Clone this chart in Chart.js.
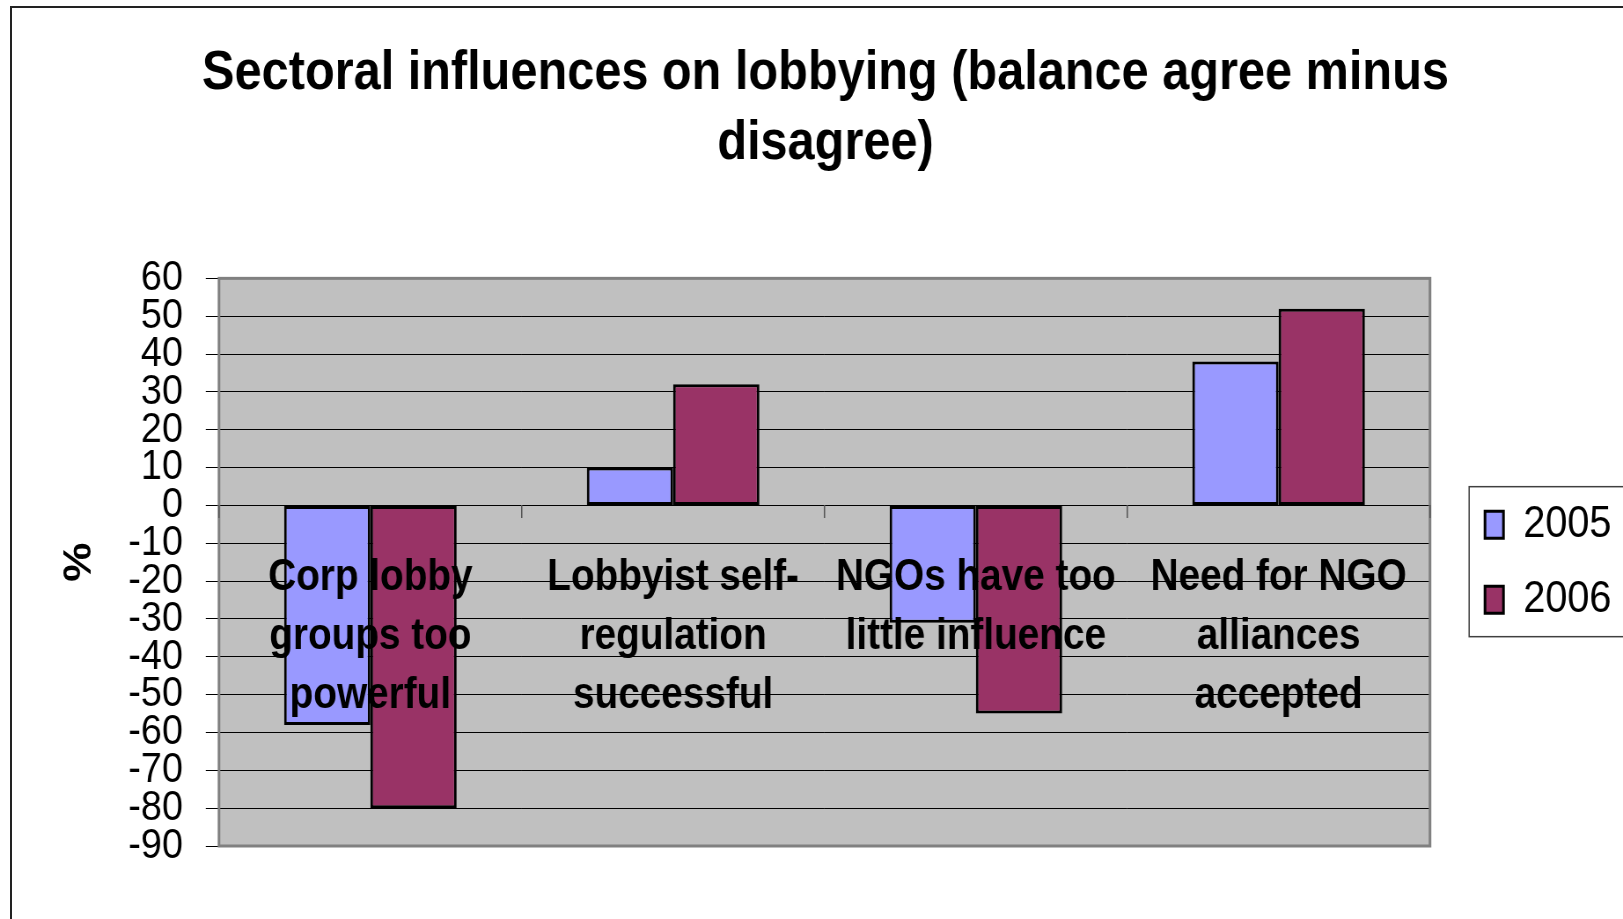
<!DOCTYPE html>
<html>
<head>
<meta charset="utf-8">
<script src="https://cdn.jsdelivr.net/npm/chart.js@4/dist/chart.umd.min.js"></script>
<style>
  html, body { margin: 0; padding: 0; background: #fff; overflow: hidden; }
  #wrap { position: absolute; left: 0; top: 0; transform: scaleX(0.88015); transform-origin: 0 0; }
  #frame { position: absolute; left: 10px; top: 6px; width: 2000px; height: 2000px;
           border-left: 2px solid #222; border-top: 2px solid #222; pointer-events: none; }
</style>
</head>
<body>
<div id="frame"></div>
<div id="wrap"><canvas id="chart" width="1844" height="919"></canvas></div>
<script>
// chart data
const categories = [
  ['Corp lobby', 'groups too', 'powerful'],
  ['Lobbyist self-', 'regulation', 'successful'],
  ['NGOs have too', 'little influence'],
  ['Need for NGO', 'alliances', 'accepted']
];
const seriesNames = ['2005', '2006'];
const values2005 = [-58, 10, -31, 38];
const values2006 = [-80, 32, -55, 52];
const yMin = -90;
const yMax = 60;
const yStep = 10;

const FONT = "'Liberation Sans', Arial, sans-serif";

// grey plot area + frame around it, plus the legend box
const plotBackground = {
  id: 'plotBackground',
  beforeDraw(chart) {
    const {ctx, chartArea: a} = chart;
    ctx.save();
    ctx.fillStyle = '#C0C0C0';
    ctx.fillRect(a.left, a.top, a.right - a.left, a.bottom - a.top);
    ctx.restore();
  },
  afterDatasetsDraw(chart) {
    const {ctx, chartArea: a} = chart;
    ctx.save();
    ctx.strokeStyle = '#808080';
    ctx.lineWidth = 3;
    ctx.strokeRect(a.left, a.top, a.right - a.left, a.bottom - a.top);
    ctx.restore();
  },
  afterDraw(chart) {
    const lg = chart.legend;
    if (!lg || !lg.legendHitBoxes || !lg.legendHitBoxes.length) return;
    const boxes = lg.legendHitBoxes;
    const first = boxes[0];
    const last = boxes[boxes.length - 1];
    const ctx = chart.ctx;
    ctx.save();
    ctx.strokeStyle = '#404040';
    ctx.lineWidth = 1.5;
    const x = first.left - 18;
    const y = first.top - 15.5;
    ctx.strokeRect(x, y, chart.width + 20 - x, last.top + last.height + 14.5 - y);
    ctx.restore();
  }
};

new Chart(document.getElementById('chart'), {
  type: 'bar',
  data: {
    labels: categories,
    datasets: [
      {
        label: seriesNames[0],
        data: values2005,
        backgroundColor: '#9999FF',
        borderColor: '#000000',
        borderWidth: 3,
        borderSkipped: false,
        categoryPercentage: 0.57,
        barPercentage: 1.0
      },
      {
        label: seriesNames[1],
        data: values2006,
        backgroundColor: '#993366',
        borderColor: '#000000',
        borderWidth: 3,
        borderSkipped: false,
        categoryPercentage: 0.57,
        barPercentage: 1.0
      }
    ]
  },
  options: {
    responsive: false,
    animation: false,
    devicePixelRatio: 1,
    layout: { padding: { left: 35, right: 3.2, top: 0, bottom: 73 } },
    plugins: {
      title: {
        display: true,
        text: ['Sectoral influences on lobbying (balance agree minus', 'disagree)'],
        color: '#000',
        font: { family: FONT, size: 55.3, weight: 'bold', lineHeight: 1.26 },
        padding: { top: 39, bottom: 100 }
      },
      legend: {
        position: 'right',
        align: 'center',
        fullSize: false,
        labels: {
          color: '#000',
          font: { family: FONT, size: 45 },
          boxWidth: 21,
          boxHeight: 27,
          padding: 30
        }
      },
      tooltip: { enabled: false }
    },
    scales: {
      x: {
        type: 'category',
        position: { y: 0 },
        grid: { drawOnChartArea: false, drawTicks: true, tickLength: 13, color: '#555', lineWidth: 1.5, z: 1 },
        border: { display: false },
        ticks: {
          z: 1,
          color: '#000',
          font: { family: FONT, size: 44, weight: 'bold', lineHeight: 1.34 },
          padding: 30,
          maxRotation: 0,
          minRotation: 0,
          autoSkip: false
        }
      },
      y: {
        min: yMin,
        max: yMax,
        position: 'left',
        grid: { color: '#000', lineWidth: 1, drawTicks: true, tickLength: 15, tickColor: '#000' },
        border: { display: false },
        ticks: {
          stepSize: yStep,
          autoSkip: false,
          color: '#000',
          padding: 26,
          font: { family: FONT, size: 43 }
        },
        title: {
          display: true,
          text: '%',
          color: '#000',
          font: { family: FONT, size: 44, weight: 'bold', lineHeight: 1.2 },
          padding: { top: 29.5, bottom: 0 }
        },
        afterFit(scale) { scale.width = 213.8; }
      },
      y2: {
        type: 'linear',
        position: 'right',
        display: true,
        grid: { display: false },
        border: { display: false },
        ticks: { display: false },
        afterFit(scale) { scale.width = 32.5; }
      }
    }
  },
  plugins: [plotBackground]
});
</script>
</body>
</html>
